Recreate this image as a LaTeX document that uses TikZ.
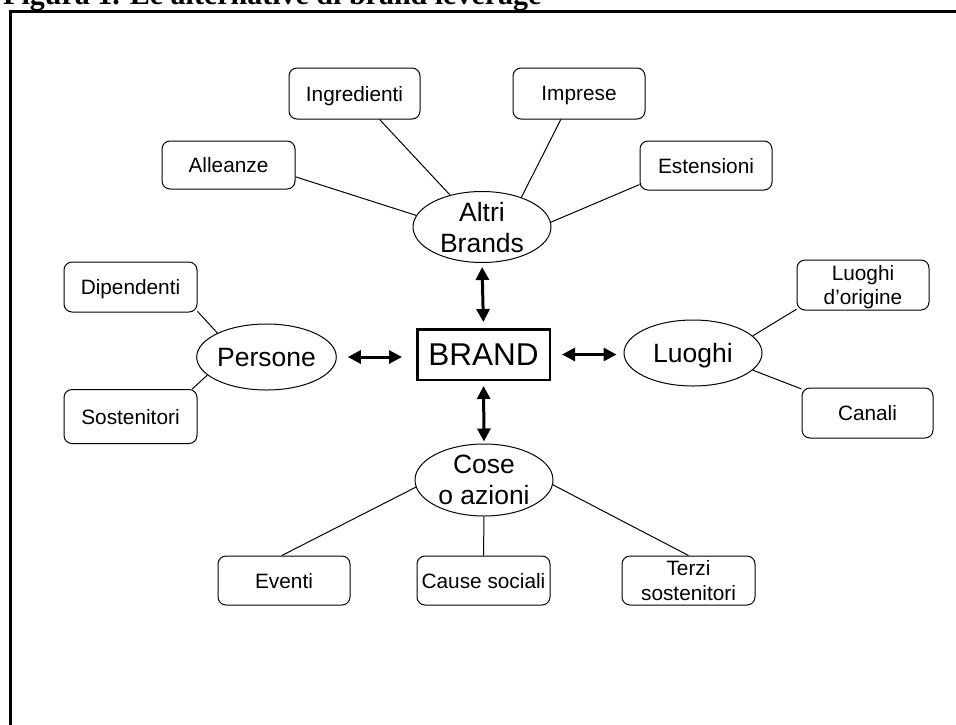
\documentclass[tikz,border=0pt]{standalone}
\usepackage{fontspec}
\setmainfont{Liberation Sans}
\newfontfamily\titleserif{Liberation Serif}
\usetikzlibrary{shapes.geometric,arrows.meta,calc}

\begin{document}
\begin{tikzpicture}[x=1pt,y=-1pt,
  leaf/.style={draw, rounded corners=8pt, line width=1pt, minimum width=132pt,
    minimum height=50pt, inner sep=0pt, align=center, text depth=0pt,
    font=\fontsize{20.8}{24.5}\selectfont},
  hub/.style={draw, ellipse, line width=1pt, minimum width=138pt,
    minimum height=67pt, inner sep=0pt, align=center, text depth=0pt,
    font=\fontsize{26.5}{31}\selectfont},
  core/.style={draw, line width=2.5pt, minimum width=132.5pt,
    minimum height=50.5pt, inner sep=0pt, font=\fontsize{31.5}{34}\selectfont},
  link/.style={line width=1pt},
  dbl/.style={{Triangle[length=13pt,width=13pt]}-{Triangle[length=13pt,width=13pt]},
    line width=3pt}]

\useasboundingbox (0,0) rectangle (956,724);
\clip (0,0) rectangle (956,724);
\fill[white] (0,0) rectangle (956,724);

% caption and outer frame
\node[anchor=base west, inner sep=0pt,
  font=\titleserif\bfseries\fontsize{30}{30}\selectfont] (title) at (3,4.5)
  {Figura 1. Le alternative di brand leverage};
\draw[line width=2.5pt] (10.7,11.3) rectangle (1000,800);

% central brand
\node[core] (brand) at (483.5,354.5) {BRAND};

% other brands
\node[hub, minimum height=68pt] (altri) at (482,227) {Altri\\Brands};
\node[leaf, minimum width=131pt, minimum height=51pt] (ingr) at (354.5,93.5) {Ingredienti};
\node[leaf, minimum height=51pt] (impr) at (579,93.5) {Imprese};
\node[leaf, minimum width=133pt, minimum height=48pt] (alle) at (228.5,165) {Alleanze};
\node[leaf, minimum height=49pt] (este) at (706,165.5) {Estensioni};

% people
\node[hub, minimum width=137pt, minimum height=66pt] (pers) at (266.5,357) {Persone};
\node[leaf, minimum width=133pt] (dipe) at (130.5,287) {Dipendenti};
\node[leaf, minimum width=133pt, minimum height=54pt] (sost) at (130.5,416.5) {Sostenitori};

% places
\node[hub, minimum height=66pt] (luog) at (693,353) {Luoghi};
\node[leaf] (orig) at (863,285) {Luoghi\\d’origine};
\node[leaf, minimum width=131pt] (cana) at (867.5,413) {Canali};

% things and actions
\node[hub, minimum height=72pt] (cose) at (484,480) {Cose\\o azioni};
\node[leaf, minimum height=49pt] (even) at (284,580.5) {Eventi};
\node[leaf, minimum width=133pt, minimum height=49pt] (caus) at (483.5,580.5) {Cause sociali};
\node[leaf, minimum width=133pt, minimum height=49pt] (terz) at (688.5,580.5) {Terzi\\sostenitori};

% thin links to the sources
\draw[link] (alle.-10) -- (altri.170);
\draw[link] (ingr.-46) -- (altri.135);
\draw[link] (impr.235) -- (altri.37);
\draw[link] (este.196) -- (altri.4);
\draw[link] (dipe.-20) -- (pers.154);
\draw[link] (sost.24) -- (pers.197);
\draw[link] (orig.200) -- (luog.16);
\draw[link] (cana.160) -- (luog.-16);
\draw[link] (even.95) -- (cose.186);
\draw[link] (caus.north) -- (cose.south);
\draw[link] (terz.north) -- (cose.-4);

% two-way arrows around the brand
\draw[dbl, shorten <=4pt, shorten >=6pt] (altri.south) -- (brand.north);
\draw[dbl, shorten <=11pt, shorten >=14pt] (pers.east) -- (pers.east -| brand.west);
\draw[dbl, shorten <=11pt, shorten >=7pt] (brand.east) -- (brand.east -| luog.west);
\draw[dbl, shorten <=5pt, shorten >=2pt] (brand.south) -- (cose.north);
\end{tikzpicture}
\end{document}
